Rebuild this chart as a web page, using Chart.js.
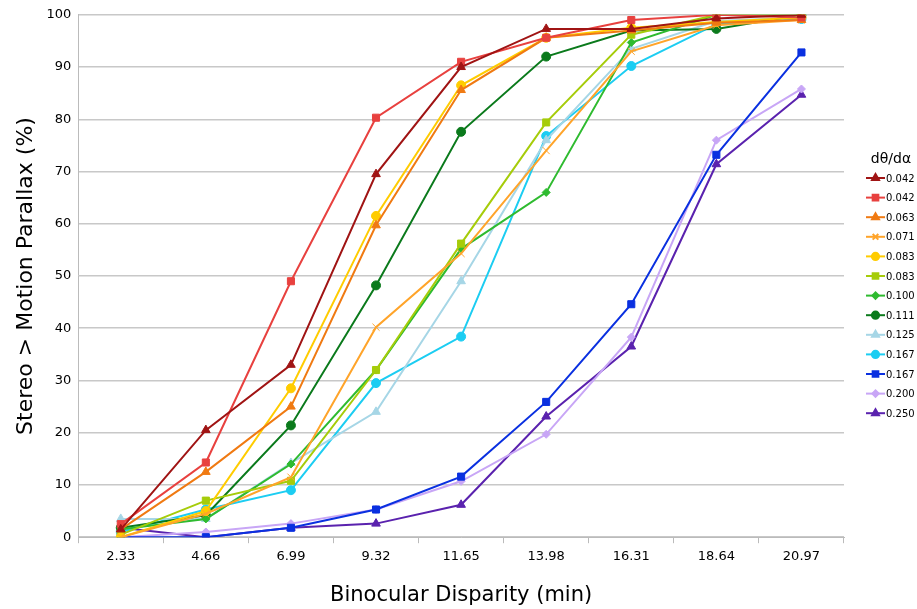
<!DOCTYPE html>
<html>
<head>
<meta charset="utf-8">
<script src="https://cdn.jsdelivr.net/npm/chart.js@4"></script>
<style>
  html, body { margin: 0; padding: 0; background: #fff; }
  #wrap { width: 917px; height: 609px; }
</style>
</head>
<body>
<div id="wrap"><canvas id="grafico"></canvas></div>
<script>
// categories (binocular disparity, min)
const disparidad = ['2.33', '4.66', '6.99', '9.32', '11.65', '13.98', '16.31', '18.64', '20.97'];
const yTicks = [0, 10, 20, 30, 40, 50, 60, 70, 80, 90, 100];

// one series per dθ/dα value
const s042a = [1.5, 20.5, 33, 69.5, 90, 97.3, 97.3, 99.3, 100];
const s042b = [2.5, 14.3, 49, 80.3, 91, 95.6, 99, 100, 99.5];
const s063 = [1.5, 12.5, 25, 59.7, 85.6, 95.6, 97, 98.5, 99];
const s071 = [0, 4.5, 11.5, 40.2, 54.3, 74, 93, 98, 99];
const s083a = [0, 5, 28.5, 61.5, 86.5, 95.6, 97.5, 98.6, 99.5];
const s083b = [0.5, 7, 10.8, 32, 56.2, 79.4, 96.2, 100, 100];
const s100 = [1.5, 3.5, 14, 32, 55.2, 66, 94.7, 100, 100];
const s111 = [1.8, 4.2, 21.4, 48.2, 77.6, 92, 97, 97.3, 100];
const s125 = [3.5, 3.5, 14.2, 24, 49, 76, 93.5, 98.8, 99.5];
const s167a = [1, 5.3, 9, 29.5, 38.4, 76.8, 90.2, 98.2, 99.2];
const s167b = [0, 0, 1.8, 5.3, 11.6, 25.9, 44.6, 73.2, 92.8];
const s200 = [0, 1, 2.6, 5.3, 10.7, 19.7, 38.3, 76, 85.8];
const s250 = [1.8, 0, 1.8, 2.6, 6.2, 23.1, 36.5, 71.4, 84.7];

function serie(label, data, color, style, r) {
    return {
        label: label,
        data: data,
        borderColor: color,
        backgroundColor: color,
        borderWidth: 2,
        pointStyle: style,
        pointRadius: r,
        pointHoverRadius: r,
        pointBorderWidth: 1,
        tension: 0
    };
}

const ctx = document.getElementById('grafico');

// legend on the right: title, then short line + marker + label per series
const leyenda = {
    id: 'leyenda',
    afterDraw(chart) {
        const c = chart.ctx;
        const x0 = chart.chartArea.right + 22;
        let y = 159;
        c.save();
        c.fillStyle = '#000';
        c.textAlign = 'center';
        c.textBaseline = 'middle';
        c.font = '14px "DejaVu Sans"';
        c.fillText('dθ/dα', 891, y);
        c.font = '10px "DejaVu Sans"';
        c.textAlign = 'left';
        y = 178;
        chart.data.datasets.forEach(ds => {
            c.strokeStyle = ds.borderColor;
            c.lineWidth = 2;
            c.beginPath();
            c.moveTo(x0, y);
            c.lineTo(x0 + 19, y);
            c.stroke();
            c.fillStyle = ds.backgroundColor;
            Chart.helpers.drawPoint(c, {
                pointStyle: ds.pointStyle,
                radius: ds.pointRadius * 0.8,
                borderWidth: 1,
                rotation: 0
            }, x0 + 9.5, y);
            c.fillStyle = '#000';
            c.fillText(ds.label, x0 + 20, y + 1);
            y += 19.6;
        });
        c.restore();
    }
};

new Chart(ctx, {
    type: 'line',
    data: {
        labels: disparidad,
        datasets: [
            serie('0.042', s042a, '#a01414', 'triangle', 5),
            serie('0.042', s042b, '#e8413f', 'rect', 5),
            serie('0.063', s063, '#f07a12', 'triangle', 5),
            serie('0.071', s071, '#ffa42a', 'crossRot', 5),
            serie('0.083', s083a, '#ffcc00', 'circle', 4.5),
            serie('0.083', s083b, '#a6cc0a', 'rect', 5),
            serie('0.100', s100, '#2fbb30', 'rectRot', 4),
            serie('0.111', s111, '#0b7a1c', 'circle', 4.5),
            serie('0.125', s125, '#a6d6e6', 'triangle', 5),
            serie('0.167', s167a, '#1ccdf2', 'circle', 4.5),
            serie('0.167', s167b, '#0a30e0', 'rect', 5),
            serie('0.200', s200, '#c8a6f6', 'rectRot', 4),
            serie('0.250', s250, '#5a22ae', 'triangle', 5)
        ]
    },
    options: {
        responsive: true,
        maintainAspectRatio: false,
        animation: false,
        layout: { padding: { top: 13, right: 73, left: 13, bottom: 1 } },
        plugins: {
            legend: { display: false },
            tooltip: { enabled: false }
        },
        scales: {
            x: {
                offset: true,
                grid: { display: true, drawOnChartArea: false, drawTicks: true, offset: true, tickLength: 6, color: '#bbb' },
                border: { color: '#bbb' },
                ticks: { color: '#000', font: { family: 'DejaVu Sans', size: 13 }, padding: 6, maxRotation: 0 },
                title: {
                    display: true,
                    text: 'Binocular Disparity (min)',
                    color: '#000',
                    font: { family: 'DejaVu Sans', size: 21 },
                    padding: { top: 12, bottom: 0 }
                }
            },
            y: {
                min: 0,
                max: 100,
                afterBuildTicks(axis) { axis.ticks = yTicks.map(v => ({ value: v })); },
                grid: { color: '#c8c8c8', lineWidth: 1.5, drawTicks: false },
                border: { color: '#bbb' },
                ticks: { color: '#000', font: { family: 'DejaVu Sans', size: 13 }, padding: 7 },
                title: {
                    display: true,
                    text: 'Stereo > Motion Parallax (%)',
                    color: '#000',
                    font: { family: 'DejaVu Sans', size: 22 },
                    padding: { top: 0, bottom: 0 }
                }
            }
        }
    },
    plugins: [leyenda]
});
</script>
</body>
</html>
